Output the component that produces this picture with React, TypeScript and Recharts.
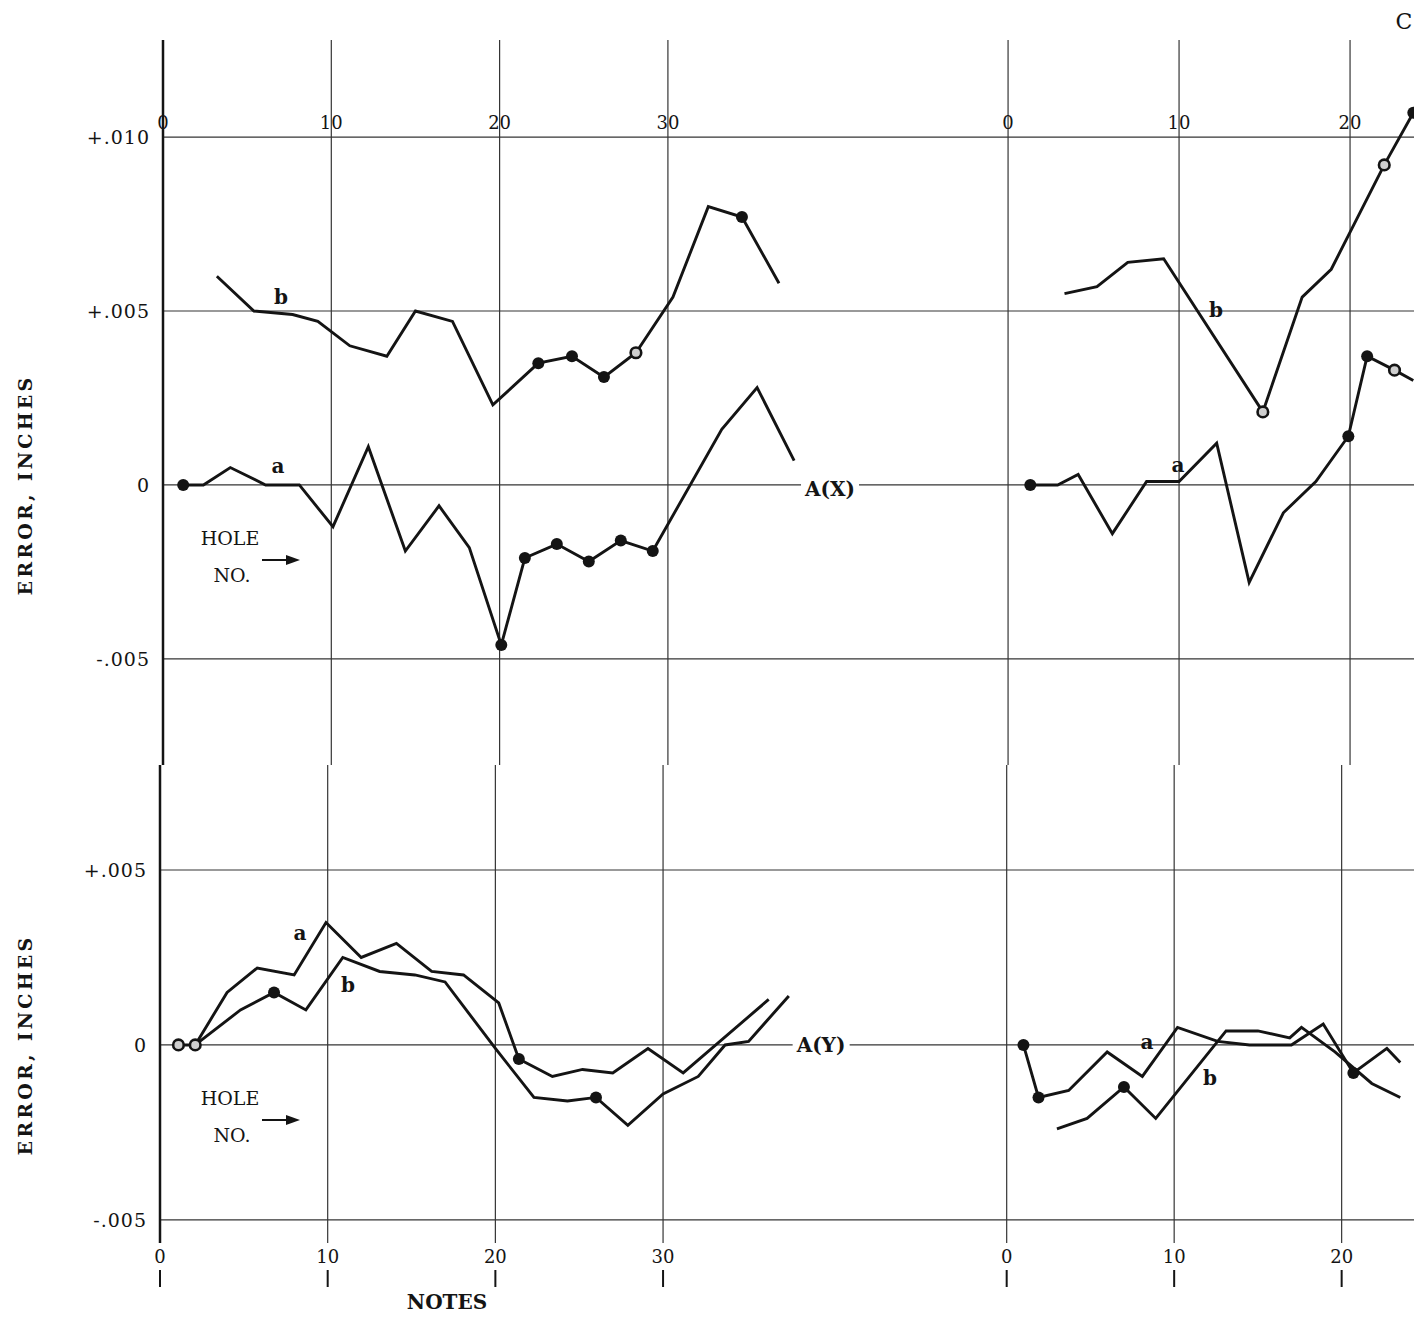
import React from "react";
import { LineChart, Line, XAxis, YAxis, ReferenceLine } from "recharts";

// [hole no., error in inches, marker]  marker: 0 none, 1 solid dot, 2 open dot
const TL_A = [
  [1.2, 0, 1], [2.4, 0, 0], [4.0, 0.0005, 0], [6.1, 0.0000, 0], [8.1, 0.0000, 0],
  [10.1, -0.0012, 0], [12.2, 0.0011, 0], [14.4, -0.0019, 0], [16.4, -0.0006, 0],
  [18.2, -0.0018, 0], [20.1, -0.0046, 1], [21.5, -0.0021, 1], [23.4, -0.0017, 1],
  [25.3, -0.0022, 1], [27.2, -0.0016, 1], [29.1, -0.0019, 1], [33.2, 0.0016, 0],
  [35.3, 0.0028, 0], [37.5, 0.0007, 0],
];
const TL_B = [
  [3.2, 0.0060, 0], [5.4, 0.0050, 0], [7.7, 0.0049, 0], [9.2, 0.0047, 0],
  [11.1, 0.0040, 0], [13.3, 0.0037, 0], [15.0, 0.0050, 0], [17.2, 0.0047, 0],
  [19.6, 0.0023, 0], [22.3, 0.0035, 1], [24.3, 0.0037, 1], [26.2, 0.0031, 1],
  [28.1, 0.0038, 2], [30.3, 0.0054, 0], [32.4, 0.0080, 0], [34.4, 0.0077, 1],
  [36.6, 0.0058, 0],
];
const TR_A = [
  [1.3, 0, 1], [2.9, 0, 0], [4.1, 0.0003, 0], [6.1, -0.0014, 0], [8.1, 0.0001, 0],
  [10.0, 0.0001, 0], [12.2, 0.0012, 0], [14.1, -0.0028, 0], [16.1, -0.0008, 0],
  [18.0, 0.0001, 0], [19.9, 0.0014, 1], [21.0, 0.0037, 1], [22.6, 0.0033, 2],
  [23.7, 0.0030, 0],
];
const TR_B = [
  [3.3, 0.0055, 0], [5.2, 0.0057, 0], [7.0, 0.0064, 0], [9.1, 0.0065, 0],
  [14.9, 0.0021, 2], [17.2, 0.0054, 0], [18.9, 0.0062, 0], [22.0, 0.0092, 2],
  [23.7, 0.0107, 1],
];
const BL_A = [
  [1.1, 0, 2], [2.1, 0, 2], [4.0, 0.0015, 0], [5.8, 0.0022, 0], [8.0, 0.0020, 0],
  [9.9, 0.0035, 0], [12.0, 0.0025, 0], [14.1, 0.0029, 0], [16.2, 0.0021, 0],
  [18.1, 0.0020, 0], [20.2, 0.0012, 0], [21.4, -0.0004, 1], [23.4, -0.0009, 0],
  [25.2, -0.0007, 0], [27.0, -0.0008, 0], [29.1, -0.0001, 0], [31.2, -0.0008, 0],
  [36.3, 0.0013, 0],
];
const BL_B = [
  [2.1, 0, 0], [4.8, 0.0010, 0], [6.8, 0.0015, 1], [8.7, 0.0010, 0], [10.9, 0.0025, 0],
  [13.1, 0.0021, 0], [15.2, 0.0020, 0], [17.0, 0.0018, 0], [20.0, -0.0001, 0],
  [22.3, -0.0015, 0], [24.3, -0.0016, 0], [26.0, -0.0015, 1], [27.9, -0.0023, 0],
  [30.0, -0.0014, 0], [32.1, -0.0009, 0], [33.7, 0.0000, 0], [35.1, 0.0001, 0],
  [37.5, 0.0014, 0],
];
const BR_A = [
  [1.0, 0, 1], [1.9, -0.0015, 1], [3.7, -0.0013, 0], [6.0, -0.0002, 0], [8.1, -0.0009, 0],
  [10.2, 0.0005, 0], [12.6, 0.0001, 0], [14.5, 0.0000, 0], [17.0, 0.0000, 0],
  [18.9, 0.0006, 0], [20.7, -0.0008, 1], [22.7, -0.0001, 0], [23.5, -0.0005, 0],
];
const BR_B = [
  [3.0, -0.0024, 0], [4.8, -0.0021, 0], [7.0, -0.0012, 1], [8.9, -0.0021, 0],
  [13.1, 0.0004, 0], [15.0, 0.0004, 0], [16.9, 0.0002, 0], [17.6, 0.0005, 0],
  [19.6, -0.0002, 0], [21.8, -0.0011, 0], [23.5, -0.0015, 0],
];

const X_TICKS_LEFT = [0, 10, 20, 30];
const X_TICKS_RIGHT = [0, 10, 20];
const Y_TICKS_TOP = [-0.005, 0, 0.005, 0.01];
const Y_TICKS_BOTTOM = [-0.005, 0, 0.005];

const SERIF = "'DejaVu Serif', 'Liberation Serif', serif";
const INK = "#141414";
const GRID = "#353535";

const toPts = (rows: number[][]) => rows.map(([x, y, m]) => ({ x, y, m }));

const fmtErr = (v: number) =>
  v === 0 ? "0" : (v > 0 ? "+" : "-") + Math.abs(v).toFixed(3).replace(/^0/, "");

const HoleDot = (p: any) => {
  const { cx, cy, payload, index } = p;
  if (!payload || !payload.m || cx == null) return <g key={`n${index}`} />;
  if (payload.m === 1) return <circle key={`d${index}`} cx={cx} cy={cy} r={6} fill={INK} />;
  return <circle key={`d${index}`} cx={cx} cy={cy} r={5.3} fill="#cfcfcf" stroke={INK} strokeWidth={2.6} />;
};

const BottomTick = (p: any) => (
  <g>
    <text x={p.x} y={p.y + 20} textAnchor="middle" fontFamily={SERIF} fontSize={18} fill={INK}>
      {p.payload.value}
    </text>
    <line x1={p.x} x2={p.x} y1={p.y + 27} y2={p.y + 44} stroke={INK} strokeWidth={2} />
  </g>
);

type PanelProps = {
  left: number; top: number; width: number; height: number;
  yWidth: number; bottom: boolean;
  xDomain: [number, number]; xTicks: number[];
  yDomain: [number, number]; yTicks: number[];
  a: number[][]; b: number[][];
};

function Panel(p: PanelProps) {
  return (
    <div style={{ position: "absolute", left: p.left, top: p.top }}>
      <LineChart
        width={p.width}
        height={p.height}
        margin={{ top: p.bottom ? 0 : 40, right: 0, bottom: 0, left: 0 }}
      >
        <XAxis
          dataKey="x"
          type="number"
          hide={!p.bottom}
          height={p.bottom ? 78 : 0}
          domain={p.xDomain}
          ticks={p.xTicks}
          allowDataOverflow
          axisLine={false}
          tickLine={false}
          tickSize={0}
          tickMargin={0}
          interval={0}
          tick={<BottomTick />}
        />
        <YAxis
          type="number"
          domain={p.yDomain}
          ticks={p.yTicks}
          allowDataOverflow
          hide={p.yWidth === 0}
          width={p.yWidth}
          axisLine={{ stroke: INK, strokeWidth: 2.5 }}
          tickLine={false}
          tickMargin={7}
          interval={0}
          tickFormatter={fmtErr}
          tick={{ fill: INK, fontSize: 19, fontFamily: SERIF, letterSpacing: 1 }}
        />
        {p.yTicks.map(t => (
          <ReferenceLine key={`h${t}`} y={t} stroke={GRID} strokeWidth={1.2} />
        ))}
        {p.xTicks.map(t => (
          <ReferenceLine
            key={`v${t}`}
            x={t}
            stroke={GRID}
            strokeWidth={1.2}
            label={p.bottom ? undefined : {
              value: String(t), position: "insideTop", offset: 76,
              fill: INK, fontSize: 18, fontFamily: SERIF,
            }}
          />
        ))}
        <Line data={toPts(p.b)} dataKey="y" type="linear" stroke={INK} strokeWidth={2.9}
          dot={HoleDot} activeDot={false} isAnimationActive={false} />
        <Line data={toPts(p.a)} dataKey="y" type="linear" stroke={INK} strokeWidth={2.9}
          dot={HoleDot} activeDot={false} isAnimationActive={false} />
      </LineChart>
    </div>
  );
}

const Txt = ({ x, y, children, size = 20, bold = true, bg = false }: any) => (
  <div style={{
    position: "absolute", left: x, top: y, transform: "translate(-50%, -50%)",
    fontFamily: SERIF, fontSize: size, fontWeight: bold ? 700 : 400, color: INK,
    whiteSpace: "nowrap", lineHeight: 1, background: bg ? "#fff" : "transparent",
    padding: bg ? "2px 4px" : 0,
  }}>{children}</div>
);

const VLabel = ({ x, y }: { x: number; y: number }) => (
  <div style={{
    position: "absolute", left: x, top: y, transform: "translate(-50%, -50%) rotate(-90deg)",
    fontFamily: SERIF, fontSize: 19, fontWeight: 700, color: INK, whiteSpace: "nowrap",
    letterSpacing: 3.2, lineHeight: 1,
  }}>ERROR, INCHES</div>
);

const HoleNo = ({ y }: { y: number }) => (
  <>
    <Txt x={230} y={y} size={19} bold={false}>HOLE</Txt>
    <Txt x={232} y={y + 37} size={19} bold={false}>NO.</Txt>
    <svg style={{ position: "absolute", left: 260, top: y + 15 }} width={42} height={14}>
      <line x1={2} y1={7} x2={30} y2={7} stroke={INK} strokeWidth={2} />
      <polygon points="26,2 40,7 26,12" fill={INK} />
    </svg>
  </>
);

export default function App() {
  return (
    <div style={{ position: "absolute", left: 0, top: 0, width: 1414, height: 1321, background: "#fff", overflow: "hidden" }}>
      <Panel left={0} top={0} width={900} height={765} yWidth={163} bottom={false}
        xDomain={[0, 43.79]} xTicks={X_TICKS_LEFT}
        yDomain={[-0.00805, 0.01279]} yTicks={Y_TICKS_TOP} a={TL_A} b={TL_B} />
      <Panel left={900} top={0} width={514} height={765} yWidth={0} bottom={false}
        xDomain={[-6.32, 23.74]} xTicks={X_TICKS_RIGHT}
        yDomain={[-0.00805, 0.01279]} yTicks={Y_TICKS_TOP} a={TR_A} b={TR_B} />
      <Panel left={0} top={765} width={900} height={556} yWidth={160} bottom={true}
        xDomain={[0, 44.13]} xTicks={X_TICKS_LEFT}
        yDomain={[-0.00566, 0.008]} yTicks={Y_TICKS_BOTTOM} a={BL_A} b={BL_B} />
      <Panel left={900} top={765} width={514} height={556} yWidth={0} bottom={true}
        xDomain={[-6.37, 24.32]} xTicks={X_TICKS_RIGHT}
        yDomain={[-0.00566, 0.008]} yTicks={Y_TICKS_BOTTOM} a={BR_A} b={BR_B} />

      {/* curve labels */}
      <Txt x={281} y={297}>b</Txt>
      <Txt x={278} y={466}>a</Txt>
      <Txt x={830} y={489} bg>A(X)</Txt>
      <Txt x={1216} y={310}>b</Txt>
      <Txt x={1178} y={465}>a</Txt>
      <Txt x={300} y={933}>a</Txt>
      <Txt x={348} y={985}>b</Txt>
      <Txt x={821} y={1045} bg>A(Y)</Txt>
      <Txt x={1147} y={1042}>a</Txt>
      <Txt x={1210} y={1078}>b</Txt>

      <HoleNo y={538} />
      <HoleNo y={1098} />

      <VLabel x={25} y={485} />
      <VLabel x={25} y={1045} />

      <Txt x={447} y={1302}>NOTES</Txt>
      <Txt x={1404} y={22} size={22} bold={false}>C</Txt>
    </div>
  );
}
